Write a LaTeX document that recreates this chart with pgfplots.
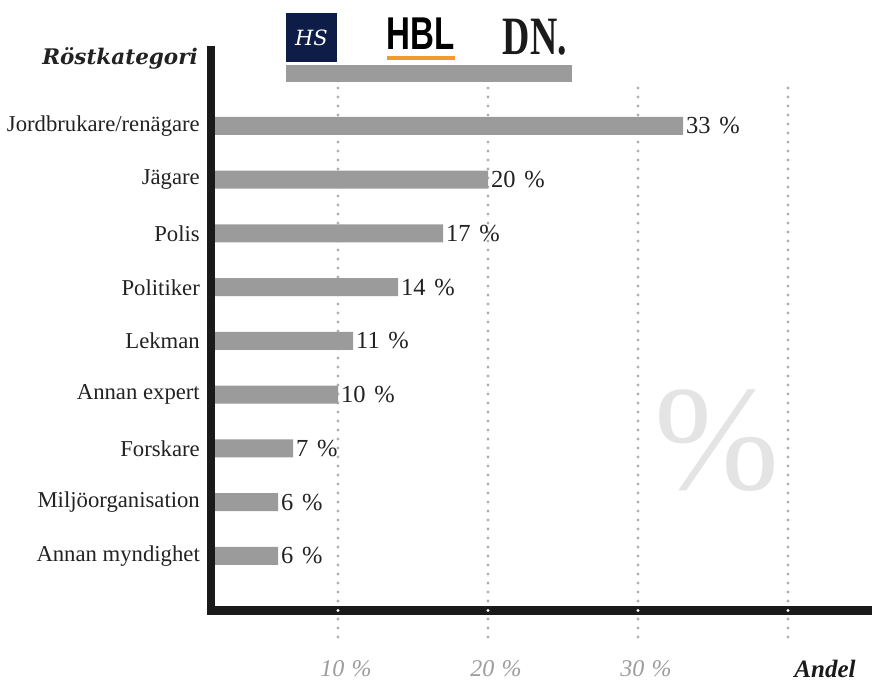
\documentclass[border=0pt]{standalone}
\usepackage{fontspec}
\setmainfont{Liberation Serif}
\newfontfamily\rkfont{DejaVu Serif}
\newfontfamily\lsans{Liberation Sans}
\usepackage{pgfplots}
\pgfplotsset{compat=1.18}
\definecolor{barc}{HTML}{9B9B9B}
\definecolor{gridc}{HTML}{B0B0B0}
\definecolor{axisc}{HTML}{1A1A1A}
\definecolor{tickc}{HTML}{9C9C9C}
\definecolor{wmark}{HTML}{E4E4E4}
\definecolor{navy}{HTML}{0E1D47}
\definecolor{hblorange}{HTML}{F39A2E}
\definecolor{txt}{HTML}{222222}
\begin{document}
\begin{tikzpicture}
% watermark
\node[text=wmark, font=\fontsize{150bp}{150bp}\selectfont, inner sep=0] at (717bp,241bp) {\%};
\begin{axis}[
  at={(211bp,71.5bp)}, anchor=south west,
  scale only axis, width=661bp, height=560.5bp,
  xmin=1.533, xmax=45.6,
  ymin=-0.014, ymax=10.414,
  clip mode=individual,
  axis on top,
  axis lines*=left,
  axis line style={line width=8bp, color=axisc, line cap=rect},
  xbar, bar width=18bp,
  major tick length=0pt,
  xtick={10,20,30},
  xticklabels={10\hspace{0.3em}\%,20\hspace{0.3em}\%,30\hspace{0.3em}\%},
  xticklabel style={font=\itshape\fontsize{24bp}{24bp}\selectfont, text=tickc, anchor=center, yshift=-58.5bp, xshift=8bp},
  ytick={1,2,3,4,5,6,7,8,9},
  yticklabels={Annan myndighet,Miljöorganisation,Forskare,Annan expert,Lekman,Politiker,Polis,Jägare,Jordbrukare/renägare},
  yticklabel style={font=\fontsize{22.7bp}{24bp}\selectfont, text=txt, anchor=east, inner sep=0pt, xshift=-11bp},
  /pgf/number format/assume math mode=true,
  nodes near coords={\pgfmathprintnumber{\pgfplotspointmeta}\hspace{0.35em}\%},
  every node near coord/.append style={anchor=west, font=\fontsize{24.5bp}{25bp}\selectfont, text=txt, inner sep=0pt, xshift=3bp},
]
% dotted grid lines (behind bars)
\draw[gridc, line width=3.2bp, dash pattern=on 0pt off 9bp, line cap=round] (axis cs:10,9.707) -- (axis cs:10,-0.563);
\draw[gridc, line width=3.2bp, dash pattern=on 0pt off 9bp, line cap=round] (axis cs:20,9.707) -- (axis cs:20,-0.563);
\draw[gridc, line width=3.2bp, dash pattern=on 0pt off 9bp, line cap=round] (axis cs:30,9.707) -- (axis cs:30,-0.563);
\draw[gridc, line width=3.2bp, dash pattern=on 0pt off 9bp, line cap=round] (axis cs:40,9.707) -- (axis cs:40,-0.563);
% decorative source bar under logos
\fill[barc] (axis cs:6.53,9.82) rectangle (axis cs:25.6,10.14);
\addplot[fill=barc, draw=none] coordinates {
  (6,1) (6,2) (7,3) (10,4) (11,5) (14,6) (17,7) (20,8) (33,9)
};
\coordinate (d10) at (axis cs:10,-0.014);
\coordinate (d20) at (axis cs:20,-0.014);
\coordinate (d30) at (axis cs:30,-0.014);
\coordinate (d40) at (axis cs:40,-0.014);
\end{axis}
% white dots on the axis line
\foreach \p in {d10,d20,d30,d40} \fill[white] (\p) circle (1.7bp);
% axis titles
\node[anchor=base east, inner sep=0, font=\rkfont\bfseries\itshape\fontsize{21.5bp}{22bp}\selectfont, text=txt] at (198bp,617bp) {Röstkategori};
\node[anchor=center, inner sep=0, font=\bfseries\itshape\fontsize{25bp}{25bp}\selectfont, text=axisc] at (825bp,13bp) {Andel};
% logos
\node[fill=navy, minimum width=51bp, minimum height=49bp, inner sep=0, text=white, font=\rkfont\itshape\fontsize{21bp}{21bp}\selectfont] at (311.5bp,644.5bp) {HS};
\node[anchor=base, inner sep=0, font=\lsans\bfseries\fontsize{46bp}{46bp}\selectfont] at (421bp,632bp) {\scalebox{0.72}[1]{HBL}};
\fill[hblorange] (387bp,622bp) rectangle (455bp,626bp);
\node[anchor=base, inner sep=0, font=\bfseries\fontsize{54bp}{54bp}\selectfont, text=axisc] at (535bp,627bp) {\scalebox{0.7}[1]{DN.}};
\pgfresetboundingbox
\useasboundingbox (0,0) rectangle (872bp,682bp);
\end{tikzpicture}
\end{document}
